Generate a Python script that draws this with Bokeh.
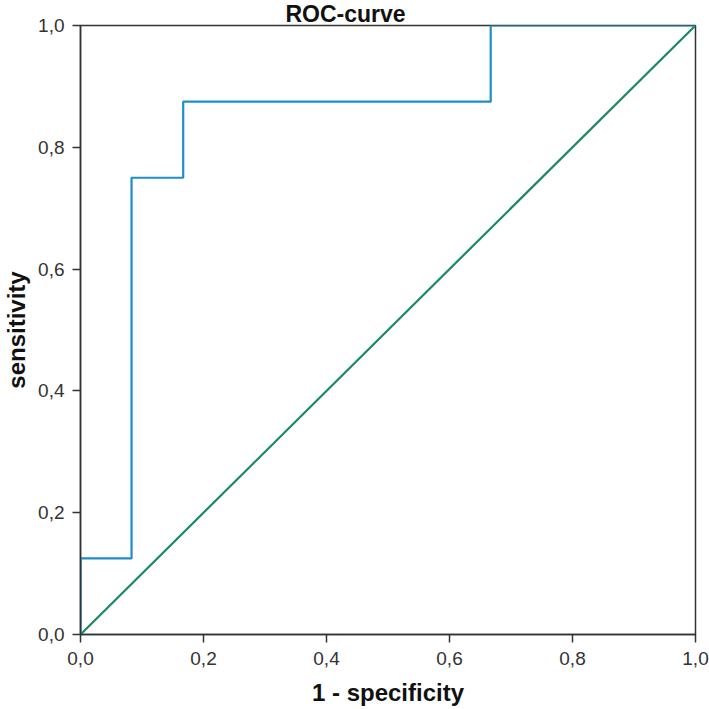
from bokeh.plotting import figure
from bokeh.models import Range1d, FixedTicker
from bokeh.embed import file_html
from bokeh.resources import INLINE

# ROC step curve (1 - specificity, sensitivity)
fpr = [0.0, 0.0, 0.083, 0.083, 0.167, 0.167, 0.667, 0.667, 1.0]
tpr = [0.0, 0.125, 0.125, 0.75, 0.75, 0.875, 0.875, 1.0, 1.0]
# reference diagonal
diag_x = [0.0, 1.0]
diag_y = [0.0, 1.0]

tick_values = [0.0, 0.2, 0.4, 0.6, 0.8, 1.0]
tick_labels = ["0,0", "0,2", "0,4", "0,6", "0,8", "1,0"]

title_text = "ROC-curve"
x_label = "1 - specificity"
y_label = "sensitivity"

FONT = "Liberation Sans"

p = figure(width=709, height=709, output_backend="svg", toolbar_location=None,
           x_range=Range1d(0, 1), y_range=Range1d(0, 1),
           min_border_left=80, min_border_right=14, min_border_top=0,
           min_border_bottom=75, title=title_text)
p.background_fill_color = "white"
p.border_fill_color = "white"
p.outline_line_color = "#333333"
p.outline_line_width = 1.5
p.xgrid.visible = False
p.ygrid.visible = False

p.title.text_font = FONT
p.title.text_font_style = "bold"
p.title.text_font_size = "23px"
p.title.text_color = "#111111"
p.title.align = "left"
p.title.offset = 205
p.title.standoff = -3

overrides = {v: l for v, l in zip(tick_values, tick_labels)}
for ax in (p.xaxis[0], p.yaxis[0]):
    ax.ticker = FixedTicker(ticks=tick_values)
    ax.major_label_overrides = overrides
    ax.minor_tick_line_color = None
    ax.major_tick_in = 0
    ax.major_tick_out = 8
    ax.major_tick_line_width = 1.5
    ax.major_tick_line_color = "#333333"
    ax.axis_line_color = "#333333"
    ax.axis_line_width = 1.5
    ax.major_label_text_font = FONT
    ax.major_label_text_font_size = "19px"
    ax.major_label_text_color = "#333333"
    ax.axis_label_text_font = FONT
    ax.axis_label_text_font_style = "bold"
    ax.axis_label_text_font_size = "24px"
    ax.axis_label_text_color = "#111111"

p.xaxis.axis_label = x_label
p.yaxis.axis_label = y_label
p.xaxis.major_label_standoff = 9
p.xaxis.axis_label_standoff = 11
p.yaxis.major_label_standoff = 8
p.yaxis.axis_label_standoff = 5

p.line(diag_x, diag_y, line_color="#1b8a62", line_width=2.2)
p.line(fpr, tpr, line_color="#1c8fc6", line_width=2.2)

open("out.html", "w").write(file_html(p, INLINE))
